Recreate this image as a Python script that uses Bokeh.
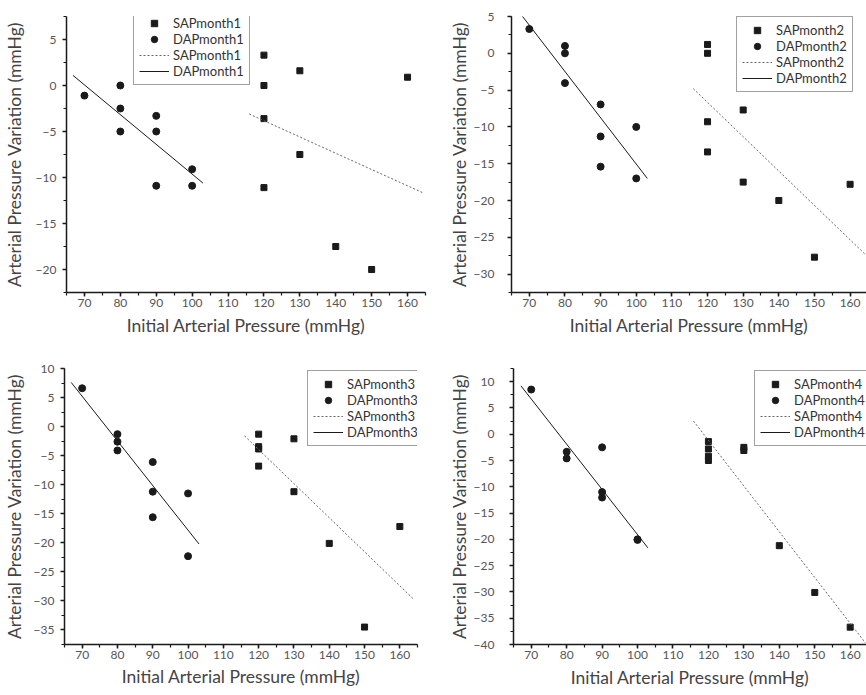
from bokeh.plotting import figure
from bokeh.layouts import column, row
from bokeh.models import Range1d, SingleIntervalTicker, Legend, LegendItem
from bokeh.embed import file_html
from bokeh.resources import INLINE

FONT = "Lato"

# ---------- data ----------
# Month 1
sap1_x = [120, 120, 120, 120, 130, 130, 140, 150, 160]
sap1_y = [3.3, 0.0, -3.6, -11.1, 1.6, -7.5, -17.5, -20.0, 0.9]
dap1_x = [70, 80, 80, 80, 90, 90, 90, 100, 100]
dap1_y = [-1.1, 0.0, -2.5, -5.0, -3.3, -5.0, -10.9, -9.1, -10.9]
sapfit1_x = [115.9, 164.5]
sapfit1_y = [-3.1, -11.7]
dapfit1_x = [66.8, 103.0]
dapfit1_y = [1.1, -10.6]

# Month 2
sap2_x = [120, 120, 120, 120, 130, 130, 140, 150, 160]
sap2_y = [1.2, 0.0, -9.3, -13.4, -7.7, -17.5, -20.0, -27.7, -17.8]
dap2_x = [70, 80, 80, 80, 90, 90, 90, 100, 100]
dap2_y = [3.3, 1.0, 0.0, -4.05, -6.95, -11.3, -15.4, -10.0, -17.0]
sapfit2_x = [116.0, 164.2]
sapfit2_y = [-4.8, -27.3]
dapfit2_x = [67.0, 103.1]
dapfit2_y = [5.7, -17.0]

# Month 3
sap3_x = [120, 120, 120, 120, 130, 130, 140, 150, 160]
sap3_y = [-1.3, -3.45, -3.85, -6.8, -2.1, -11.2, -20.1, -34.5, -17.2]
dap3_x = [70, 80, 80, 80, 90, 90, 90, 100, 100]
dap3_y = [6.6, -1.3, -2.6, -4.1, -6.1, -11.2, -15.6, -11.5, -22.3]
sapfit3_x = [116.0, 163.9]
sapfit3_y = [-1.6, -29.7]
dapfit3_x = [66.9, 103.1]
dapfit3_y = [7.6, -20.2]

# Month 4
sap4_x = [120, 120, 120, 120, 130, 130, 140, 150, 160]
sap4_y = [-1.4, -2.8, -4.2, -5.0, -2.5, -3.1, -21.2, -30.1, -36.7]
dap4_x = [70, 80, 80, 90, 90, 90, 100, 100]
dap4_y = [8.5, -3.35, -4.6, -2.5, -11.0, -12.05, -20.0, -20.1]
sapfit4_x = [115.8, 164.3]
sapfit4_y = [2.5, -39.7]
dapfit4_x = [67.1, 102.9]
dapfit4_y = [9.2, -21.6]

X_LABEL = "Initial Arterial Pressure (mmHg)"
Y_LABEL = "Arterial Pressure Variation (mmHg)"


def make_panel(month, sx, sy, dx, dy, sfx, sfy, dfx, dfy,
               xr, yr, width, height, borders, legend_loc,
               xstand, ystand, ylabstand):
    l, r, t, b = borders
    p = figure(width=width, height=height, output_backend="svg",
               toolbar_location=None,
               x_range=Range1d(*xr), y_range=Range1d(*yr),
               min_border_left=l, min_border_right=r,
               min_border_top=t, min_border_bottom=b)
    p.outline_line_color = None
    p.xgrid.visible = False
    p.ygrid.visible = False
    p.background_fill_color = "white"
    p.border_fill_color = "white"

    p.xaxis.ticker = SingleIntervalTicker(interval=10, num_minor_ticks=2)
    p.yaxis.ticker = SingleIntervalTicker(interval=5, num_minor_ticks=2)
    for ax in (p.xaxis[0], p.yaxis[0]):
        ax.axis_line_color = "#1a1a1a"
        ax.axis_line_width = 1.5
        ax.major_tick_line_color = "#1a1a1a"
        ax.minor_tick_line_color = "#1a1a1a"
        ax.major_tick_line_width = 1.5
        ax.minor_tick_line_width = 1.2
        ax.major_tick_in = 0
        ax.major_tick_out = 4
        ax.minor_tick_in = 0
        ax.minor_tick_out = 3
        ax.major_label_text_font = FONT
        ax.major_label_text_font_size = "12px"
        ax.major_label_text_color = "#555555"
        ax.axis_label_text_font = FONT
        ax.axis_label_text_font_size = "17.5px"
        ax.axis_label_text_font_style = "normal"
        ax.axis_label_text_color = "#444444"
    p.xaxis.major_label_standoff = 2
    p.yaxis.major_label_standoff = ylabstand
    p.xaxis.axis_label = X_LABEL
    p.yaxis.axis_label = Y_LABEL
    p.xaxis.axis_label_standoff = xstand
    p.yaxis.axis_label_standoff = ystand

    rs = p.scatter(sx, sy, marker="square", size=6, color="#1a1a1a")
    rd = p.scatter(dx, dy, marker="circle", size=7, color="#1a1a1a")
    lsf = p.line(sfx, sfy, line_color="#666666", line_width=1,
                 line_dash="2 2")
    ldf = p.line(dfx, dfy, line_color="#1a1a1a", line_width=1)

    name_s = "SAPmonth%d" % month
    name_d = "DAPmonth%d" % month
    legend = Legend(items=[
        LegendItem(label=name_s, renderers=[rs]),
        LegendItem(label=name_d, renderers=[rd]),
        LegendItem(label=name_s, renderers=[lsf]),
        LegendItem(label=name_d, renderers=[ldf]),
    ], location=legend_loc)
    legend.label_text_font = FONT
    legend.label_text_font_size = "13px"
    legend.label_text_color = "#333333"
    legend.glyph_width = 30
    legend.glyph_height = 16
    legend.label_height = 16
    legend.label_standoff = 4
    legend.spacing = 0
    legend.padding = 5
    legend.margin = 0
    legend.border_line_color = "#444444"
    legend.border_line_width = 1.3
    legend.background_fill_alpha = 1
    p.add_layout(legend, "center")
    return p


p1 = make_panel(1, sap1_x, sap1_y, dap1_x, dap1_y, sapfit1_x, sapfit1_y,
                dapfit1_x, dapfit1_y, (65, 165), (-22.5, 7.5),
                433, 340, (63, 8, 15, 47), (67, 207), 5, 8, 6)
p2 = make_panel(2, sap2_x, sap2_y, dap2_x, dap2_y, sapfit2_x, sapfit2_y,
                dapfit2_x, dapfit2_y, (65, 164.6), (-32.5, 5),
                433, 340, (78, 0, 16, 48), (225, 200), 5, 1, 13)
p3 = make_panel(3, sap3_x, sap3_y, dap3_x, dap3_y, sapfit3_x, sapfit3_y,
                dapfit3_x, dapfit3_y, (65, 165), (-37.5, 10),
                433, 355, (61, 16, 28, 50), (243, 198), 4, 6, 6)
p4 = make_panel(4, sap4_x, sap4_y, dap4_x, dap4_y, sapfit4_x, sapfit4_y,
                dapfit4_x, dapfit4_y, (65, 164.6), (-40, 12.5),
                433, 355, (80, 0, 28, 51), (241, 198), 5, 1, 15)

layout = column(row(p1, p2), row(p3, p4))
open("out.html", "w").write(file_html(layout, INLINE))
